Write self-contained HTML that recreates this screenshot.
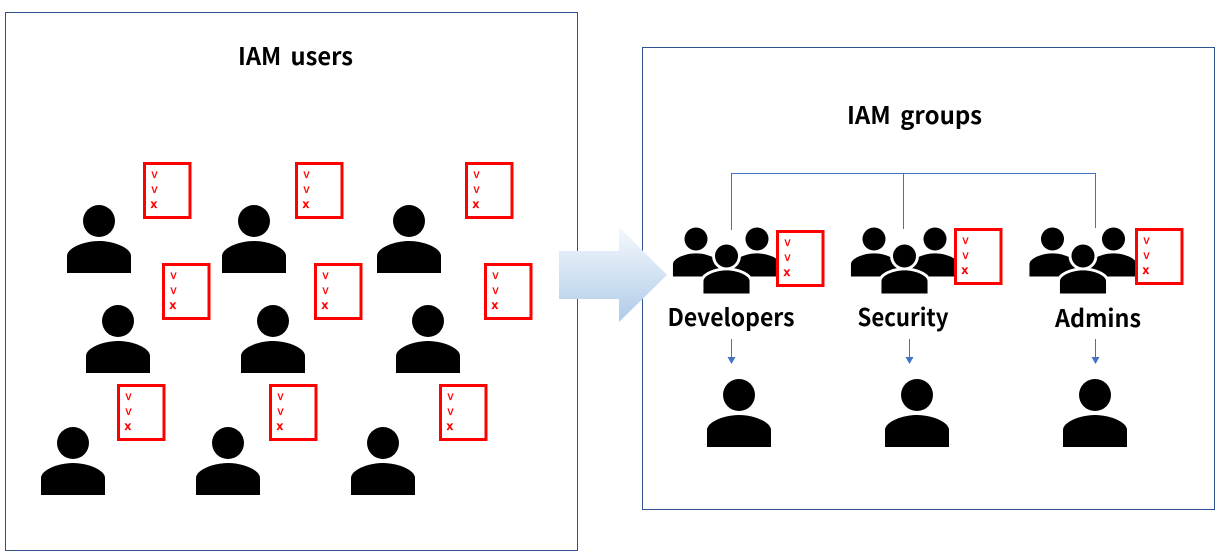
<!DOCTYPE html>
<html><head><meta charset="utf-8"><style>
html,body{margin:0;padding:0;background:#fff}
svg{display:block}
.t{font-family:"Noto Sans CJK KR","Liberation Sans",sans-serif;font-weight:700;fill:#000;font-size:24px}
.c text{font-family:"Liberation Sans",sans-serif;fill:#f00;font-size:12px;stroke:#f00;stroke-width:.25}
.c rect{fill:#fff;stroke:#f00;stroke-width:3}
</style></head><body>
<svg width="1222" height="559" viewBox="0 0 1222 559" xmlns="http://www.w3.org/2000/svg">
<defs>
<linearGradient id="g" x1="0" y1="0" x2="0" y2="1"><stop offset="0" stop-color="#f4f8fd"/><stop offset=".5" stop-color="#d3e2f3"/><stop offset="1" stop-color="#aecbe9"/></linearGradient>
<g id="p"><circle cx="0" cy="0" r="16"/><path d="M-32 52V35C-32 27-15 20 0 20S32 27 32 35V52Z"/></g>
<g id="gr"><use href="#p" transform="translate(-30.5 -17) scale(.72)"/><use href="#p" transform="translate(30.5 -17) scale(.72)"/>
<g transform="scale(.72)"><circle cx="0" cy="0" r="16" stroke="#fff" stroke-width="8" paint-order="stroke"/><path d="M-32 52V35C-32 27-15 20 0 20S32 27 32 35V52Z" stroke="#fff" stroke-width="8" paint-order="stroke"/></g></g>
</defs>
<rect x="5.5" y="12.5" width="572" height="538" fill="#fff" stroke="#2f528f"/>
<rect x="642.5" y="47.5" width="572" height="462" fill="#fff" stroke="#2f528f"/>
<path d="M731.5 230V173.5H1095.5V228M903.5 173.5V229" fill="none" stroke="#4472c4"/>
<path d="M559 251H619V227L667 275L619 322V299H559Z" fill="url(#g)"/>
<g fill="#4472c4"><path d="M731 339h1v18h-1z"/><path d="M727.5 357h8l-4 7z"/><path d="M909 339h1v18h-1z"/><path d="M905.5 357h8l-4 7z"/><path d="M1095 339h1v18h-1z"/><path d="M1091.5 357h8l-4 7z"/></g>
<g fill="#000">
<use href="#p" x="99" y="221"/><use href="#p" x="254" y="221"/><use href="#p" x="409" y="221"/>
<use href="#p" x="118" y="321"/><use href="#p" x="273" y="321"/><use href="#p" x="428" y="321"/>
<use href="#p" x="73" y="443"/><use href="#p" x="228" y="443"/><use href="#p" x="383" y="443"/>
<use href="#p" x="739" y="395"/><use href="#p" x="917" y="395"/><use href="#p" x="1095" y="395"/>
<use href="#gr" x="726.5" y="256"/><use href="#gr" x="904.5" y="256"/><use href="#gr" x="1083" y="256"/>
</g>
<g class="c" transform="translate(143 162)"><rect x="1.5" y="1.5" width="45.5" height="54"/><text x="8.5" y="16">v</text><text x="8.5" y="31">v</text><text x="7.5" y="46" font-weight="700">x</text></g>
<g class="c" transform="translate(295 162)"><rect x="1.5" y="1.5" width="45.5" height="54"/><text x="8.5" y="16">v</text><text x="8.5" y="31">v</text><text x="7.5" y="46" font-weight="700">x</text></g>
<g class="c" transform="translate(465 162)"><rect x="1.5" y="1.5" width="45.5" height="54"/><text x="8.5" y="16">v</text><text x="8.5" y="31">v</text><text x="7.5" y="46" font-weight="700">x</text></g>
<g class="c" transform="translate(162 263)"><rect x="1.5" y="1.5" width="45.5" height="54"/><text x="8.5" y="16">v</text><text x="8.5" y="31">v</text><text x="7.5" y="46" font-weight="700">x</text></g>
<g class="c" transform="translate(314 263)"><rect x="1.5" y="1.5" width="45.5" height="54"/><text x="8.5" y="16">v</text><text x="8.5" y="31">v</text><text x="7.5" y="46" font-weight="700">x</text></g>
<g class="c" transform="translate(484 263)"><rect x="1.5" y="1.5" width="45.5" height="54"/><text x="8.5" y="16">v</text><text x="8.5" y="31">v</text><text x="7.5" y="46" font-weight="700">x</text></g>
<g class="c" transform="translate(117 384)"><rect x="1.5" y="1.5" width="45.5" height="54"/><text x="8.5" y="16">v</text><text x="8.5" y="31">v</text><text x="7.5" y="46" font-weight="700">x</text></g>
<g class="c" transform="translate(269 384)"><rect x="1.5" y="1.5" width="45.5" height="54"/><text x="8.5" y="16">v</text><text x="8.5" y="31">v</text><text x="7.5" y="46" font-weight="700">x</text></g>
<g class="c" transform="translate(439 384)"><rect x="1.5" y="1.5" width="45.5" height="54"/><text x="8.5" y="16">v</text><text x="8.5" y="31">v</text><text x="7.5" y="46" font-weight="700">x</text></g>
<g class="c" transform="translate(776 230)"><rect x="1.5" y="1.5" width="45.5" height="54"/><text x="8.5" y="16">v</text><text x="8.5" y="31">v</text><text x="7.5" y="46" font-weight="700">x</text></g>
<g class="c" transform="translate(954 228)"><rect x="1.5" y="1.5" width="45.5" height="54"/><text x="8.5" y="16">v</text><text x="8.5" y="31">v</text><text x="7.5" y="46" font-weight="700">x</text></g>
<g class="c" transform="translate(1135 228)"><rect x="1.5" y="1.5" width="45.5" height="54"/><text x="8.5" y="16">v</text><text x="8.5" y="31">v</text><text x="7.5" y="46" font-weight="700">x</text></g>
<text class="t" x="238" y="65" textLength="115" lengthAdjust="spacingAndGlyphs" word-spacing="4">IAM users</text>
<text class="t" x="847" y="124" textLength="135" lengthAdjust="spacingAndGlyphs" word-spacing="4">IAM groups</text>
<text class="t" x="667.5" y="326" textLength="127" lengthAdjust="spacingAndGlyphs">Developers</text>
<text class="t" x="857.5" y="326" textLength="91" lengthAdjust="spacingAndGlyphs">Security</text>
<text class="t" x="1055" y="327" textLength="86" lengthAdjust="spacingAndGlyphs">Admins</text>
</svg>
</body></html>
